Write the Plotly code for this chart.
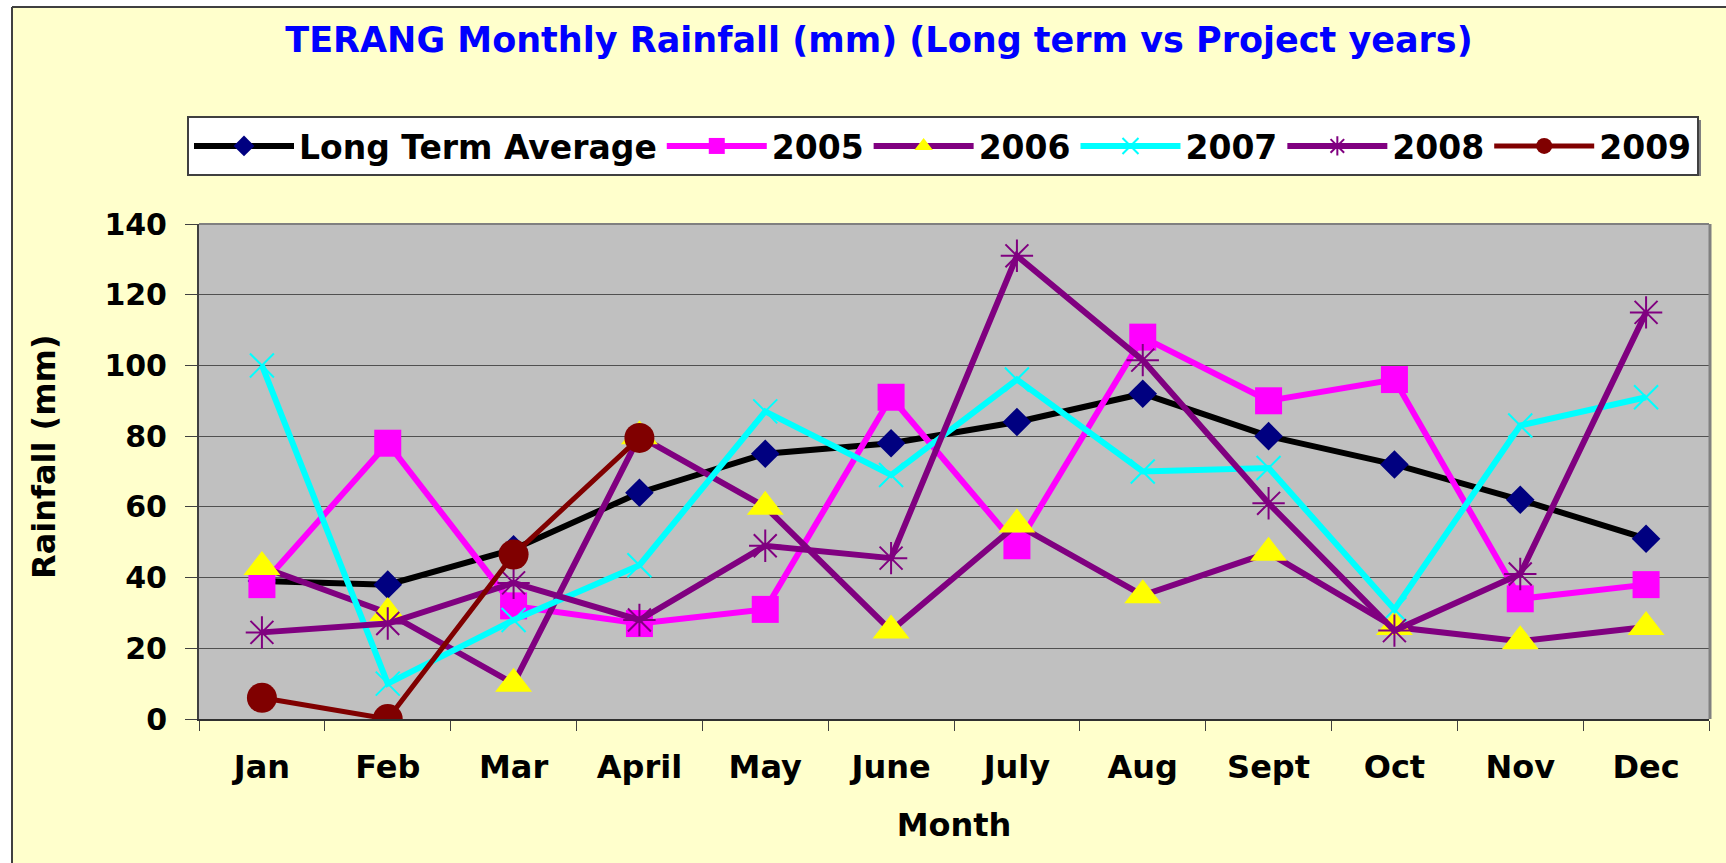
import plotly.graph_objects as go

months = ["Jan", "Feb", "Mar", "April", "May", "June", "July", "Aug", "Sept", "Oct", "Nov", "Dec"]
long_term = [39, 38, 48, 64, 75, 78, 84, 92, 80, 72, 62, 51]
y2005 = [38, 78, 32, 27, 31, 91, 49, 108, 90, 96, 34, 38]
y2006 = [43, 30, 10, 80, 60, 25, 55, 35, 47, 26, 22, 26]
y2007 = [100, 10, 28, 43.5, 87, 69, 96, 70, 71, 31, 83, 91]
y2008 = [24.5, 27, 38.5, 28, 49, 45.5, 131, 101.5, 61, 25, 41, 115]
y2009 = [6, 0, 46.5, 79.5]

W, H = 1726, 863
L, R, T, B = 199, 17, 224, 144
PW, PH = W - L - R, H - T - B

def px(x):
    return (x - L) / PW

def py(y):
    return (H - B - y) / PH

FONT = "DejaVu Sans"

fig = go.Figure()
fig.add_trace(go.Scatter(x=months, y=long_term, name="<b>Long Term Average</b>", mode="lines+markers",
                         line=dict(color="black", width=6),
                         marker=dict(symbol="diamond", size=22, color="#000080")))
fig.add_trace(go.Scatter(x=months, y=y2005, name="<b>2005</b>", mode="lines+markers",
                         line=dict(color="#FF00FF", width=6),
                         marker=dict(symbol="square", size=27, color="#FF00FF")))
fig.add_trace(go.Scatter(x=months, y=y2006, name="<b>2006</b>", mode="lines+markers",
                         line=dict(color="#800080", width=6),
                         marker=dict(symbol="triangle-up", size=32, color="#FFFF00")))
fig.add_trace(go.Scatter(x=months, y=y2007, name="<b>2007</b>", mode="lines+markers",
                         line=dict(color="#00FFFF", width=6),
                         marker=dict(symbol="x-thin-open", size=24, color="#00FFFF",
                                     line=dict(color="#00FFFF", width=2))))
fig.add_trace(go.Scatter(x=months, y=y2008, name="<b>2008</b>", mode="lines+markers",
                         line=dict(color="#800080", width=6),
                         marker=dict(symbol="asterisk-open", size=27, color="#800080",
                                     line=dict(color="#800080", width=2))))
fig.add_trace(go.Scatter(x=months[:len(y2009)], y=y2009, name="<b>2009</b>", mode="lines+markers",
                         line=dict(color="#800000", width=5),
                         marker=dict(symbol="circle", size=30, color="#800000")))

shapes = [
    # white margins outside the chart border
    dict(type="rect", xref="paper", yref="paper", x0=px(-5), x1=px(12), y0=py(900), y1=py(-5),
         fillcolor="white", line=dict(width=0), layer="below"),
    dict(type="rect", xref="paper", yref="paper", x0=px(-5), x1=px(1740), y0=py(7), y1=py(-5),
         fillcolor="white", line=dict(width=0), layer="below"),
    # chart border
    dict(type="line", xref="paper", yref="paper", x0=px(12), x1=px(1740), y0=py(7), y1=py(7),
         line=dict(color="#404040", width=2)),
    dict(type="line", xref="paper", yref="paper", x0=px(12), x1=px(12), y0=py(7), y1=py(900),
         line=dict(color="#404040", width=2)),
    # plot area top/right border
    dict(type="line", xref="paper", yref="paper", x0=0, x1=1, y0=1, y1=1,
         line=dict(color="#808080", width=2)),
    dict(type="line", xref="paper", yref="paper", x0=px(1710), x1=px(1710), y0=0, y1=1,
         line=dict(color="#808080", width=3)),
    # legend shadow
    dict(type="rect", xref="paper", yref="paper", x0=px(190), x1=px(1701), y0=py(176), y1=py(120),
         fillcolor="#808080", line=dict(width=0), layer="below"),
]

fig.update_layout(
    width=W, height=H,
    margin=dict(l=L, r=R, t=T, b=B),
    paper_bgcolor="#FFFFCC",
    plot_bgcolor="#C0C0C0",
    font=dict(family=FONT, color="black"),
    title=dict(text="<b>TERANG Monthly Rainfall (mm) (Long term vs Project years)</b>",
               font=dict(family=FONT, size=35, color="#0000FF"),
               x=879 / W, xanchor="center", y=1 - 40 / H, yanchor="middle"),
    legend=dict(orientation="h", x=px(187), xanchor="left", y=py(116), yanchor="top",
                bgcolor="white", bordercolor="#404040", borderwidth=2,
                font=dict(family=FONT, size=33, color="black"),
                itemwidth=100, tracegroupgap=0),
    xaxis=dict(type="category", tickson="boundaries", ticks="outside", ticklen=10,
               tickcolor="#404040", showline=True, linecolor="#303030", linewidth=2,
               tickfont=dict(family=FONT, size=32, color="black"),
               tickprefix="<b>", ticksuffix="</b>", ticklabelstandoff=19,
               title=dict(text="<b>Month</b>", font=dict(family=FONT, size=32), standoff=28),
               showgrid=False, range=[-0.5, 11.5]),
    yaxis=dict(range=[0, 140], dtick=20, ticks="outside", ticklen=12, tickcolor="#404040",
               showline=True, linecolor="#404040", linewidth=2,
               gridcolor="#505050", gridwidth=1,
               zeroline=False,
               tickfont=dict(family=FONT, size=30, color="black"),
               tickprefix="<b>", ticksuffix="</b>", ticklabelstandoff=12),
    annotations=[dict(text="<b>Rainfall (mm)</b>", textangle=-90, xref="paper", yref="paper",
                      x=px(44), y=py(457), xanchor="center", yanchor="middle", showarrow=False,
                      font=dict(family=FONT, size=32, color="black"))],
    shapes=shapes,
    showlegend=True,
)

fig.write_html("out.html", config={"displayModeBar": False},
               post_script="document.body.style.margin='0';document.body.style.overflow='hidden';")
